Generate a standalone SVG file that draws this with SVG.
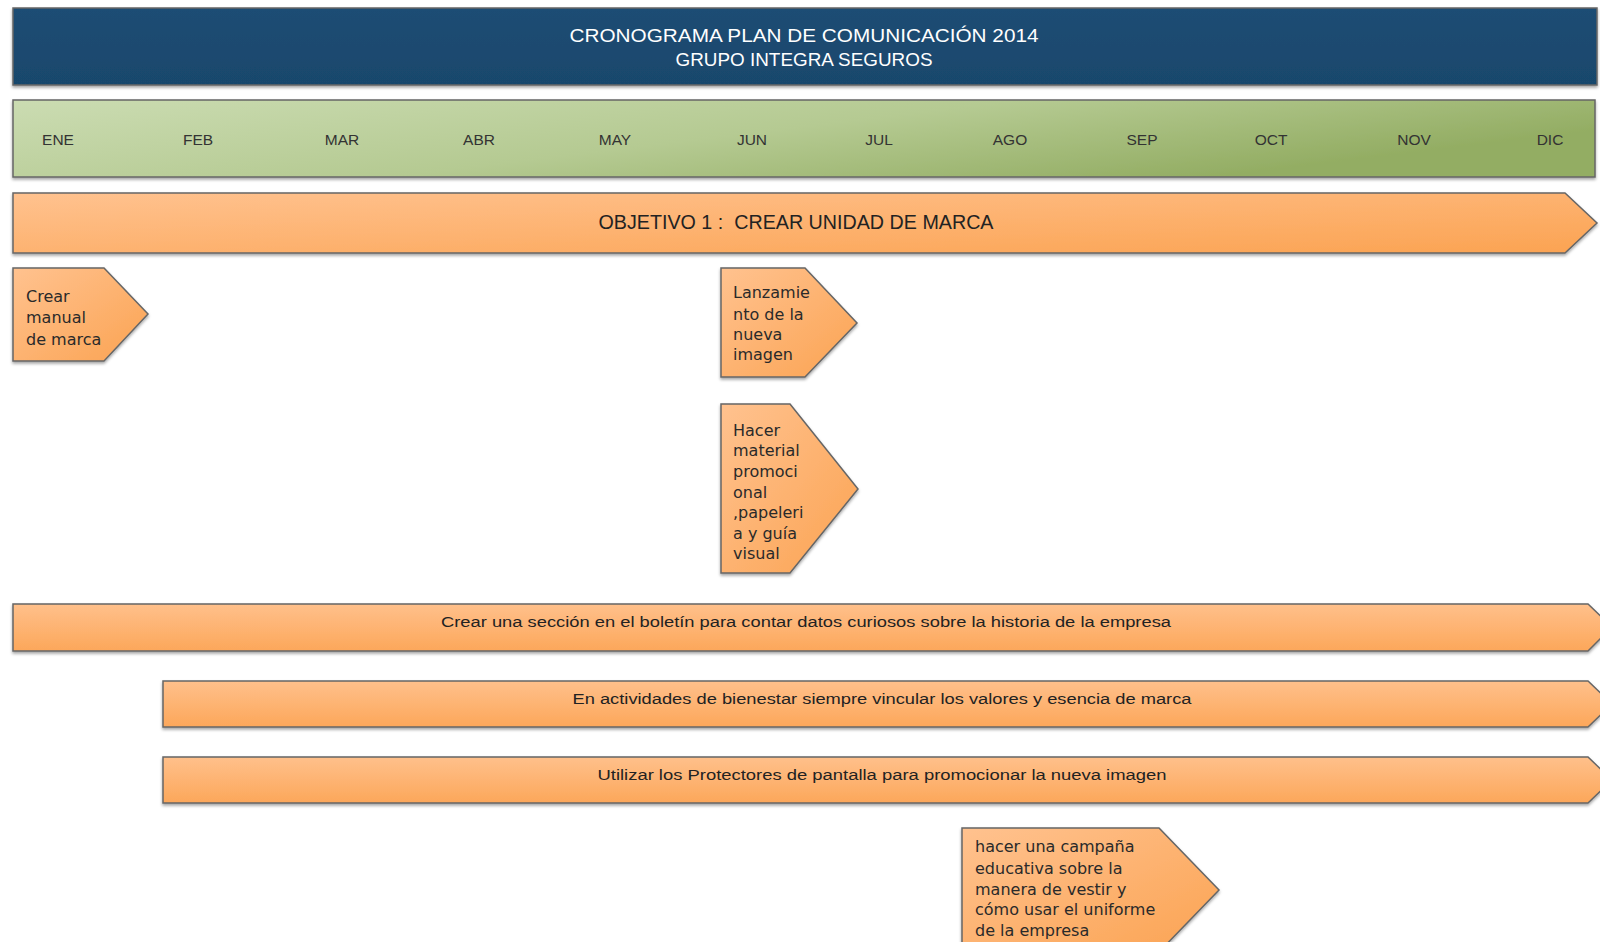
<svg xmlns="http://www.w3.org/2000/svg" width="1600" height="942" viewBox="0 0 1600 942">
<defs>
<linearGradient id="gOrange" x1="0" y1="0" x2="1" y2="1">
<stop offset="0" stop-color="#ffc28f"/>
<stop offset="1" stop-color="#fba352"/>
</linearGradient>
<linearGradient id="gBar" x1="0" y1="0" x2="0" y2="1">
<stop offset="0" stop-color="#ffc08b"/>
<stop offset="1" stop-color="#fca75a"/>
</linearGradient>
<linearGradient id="gGreen" x1="0" y1="0" x2="1" y2="0.4">
<stop offset="0" stop-color="#cbdcb2"/>
<stop offset="0.55" stop-color="#b5ca92"/>
<stop offset="1" stop-color="#93ad63"/>
</linearGradient>
<linearGradient id="gBlue" x1="0" y1="0" x2="0" y2="1">
<stop offset="0" stop-color="#1d4d74"/>
<stop offset="1" stop-color="#19476c"/>
</linearGradient>
<filter id="sh" x="-5%" y="-20%" width="110%" height="150%">
<feDropShadow dx="0" dy="2" stdDeviation="1.5" flood-color="#000" flood-opacity="0.35"/>
</filter>
</defs>
<style>
.box{stroke:#666;stroke-width:1.5;filter:url(#sh)}
.or{fill:url(#gOrange)}
.orb{fill:url(#gBar)}
.hd{font-family:"Liberation Sans",Arial,sans-serif;font-size:19px;fill:#fff;text-anchor:middle}
.mo{font-family:"Liberation Sans",Arial,sans-serif;font-size:15.5px;fill:#333;text-anchor:middle}
.ob{font-family:"Liberation Sans",Arial,sans-serif;font-size:20px;fill:#222;text-anchor:middle}
.bt{font-family:"Liberation Sans",Arial,sans-serif;font-size:15.5px;fill:#222;text-anchor:middle}
.pt{font-family:"DejaVu Sans",sans-serif;font-size:16px;fill:#2a2a2a}
</style>
<rect width="1600" height="942" fill="#fff"/>

<g id="header">
<rect class="box" x="13" y="8" width="1584" height="77" fill="url(#gBlue)"/>
<text class="hd" x="804" y="42" textLength="469" lengthAdjust="spacingAndGlyphs">CRONOGRAMA PLAN DE COMUNICACIÓN 2014</text>
<text class="hd" x="804" y="66" textLength="257" lengthAdjust="spacingAndGlyphs">GRUPO INTEGRA SEGUROS</text>
</g>

<g id="months">
<rect class="box" x="13" y="100" width="1582" height="77" fill="url(#gGreen)"/>
<text class="mo" x="58" y="145">ENE</text>
<text class="mo" x="198" y="145">FEB</text>
<text class="mo" x="342" y="145">MAR</text>
<text class="mo" x="479" y="145">ABR</text>
<text class="mo" x="615" y="145">MAY</text>
<text class="mo" x="752" y="145">JUN</text>
<text class="mo" x="879" y="145">JUL</text>
<text class="mo" x="1010" y="145">AGO</text>
<text class="mo" x="1142" y="145">SEP</text>
<text class="mo" x="1271" y="145">OCT</text>
<text class="mo" x="1414" y="145">NOV</text>
<text class="mo" x="1550" y="145">DIC</text>
</g>

<g id="objetivo1">
<polygon class="box or" points="13,193 1565,193 1597,223 1565,253 13,253"/>
<text class="ob" x="796" y="229" xml:space="preserve" textLength="395" lengthAdjust="spacingAndGlyphs">OBJETIVO 1 :  CREAR UNIDAD DE MARCA</text>
</g>

<g id="crear-manual">
<polygon class="box or" points="13,268 104,268 148,314 104,361 13,361"/>
<text class="pt" x="26"><tspan x="26" y="302">Crear</tspan><tspan x="26" y="323">manual</tspan><tspan x="26" y="345">de marca</tspan></text>
</g>

<g id="lanzamiento">
<polygon class="box or" points="721,268 805,268 857,323 805,377 721,377"/>
<text class="pt"><tspan x="733" y="298">Lanzamie</tspan><tspan x="733" y="320">nto de la</tspan><tspan x="733" y="340">nueva</tspan><tspan x="733" y="360">imagen</tspan></text>
</g>

<g id="material">
<polygon class="box or" points="721,404 790,404 858,489 790,573 721,573"/>
<text class="pt"><tspan x="733" y="436">Hacer</tspan><tspan x="733" y="456">material</tspan><tspan x="733" y="477">promoci</tspan><tspan x="733" y="498">onal</tspan><tspan x="733" y="518">,papeleri</tspan><tspan x="733" y="539">a y guía</tspan><tspan x="733" y="559">visual</tspan></text>
</g>

<g id="boletin">
<polygon class="box orb" points="13,604 1588,604 1612,627 1588,651 13,651"/>
<text class="bt" x="806" y="627" textLength="730" lengthAdjust="spacingAndGlyphs">Crear una sección en el boletín para contar datos curiosos sobre la historia de la empresa</text>
</g>

<g id="bienestar">
<polygon class="box orb" points="163,681 1588,681 1612,704 1588,727 163,727"/>
<text class="bt" x="882" y="704" textLength="619" lengthAdjust="spacingAndGlyphs">En actividades de bienestar siempre vincular los valores y esencia de marca</text>
</g>

<g id="protectores">
<polygon class="box orb" points="163,757 1588,757 1612,780 1588,803 163,803"/>
<text class="bt" x="882" y="780" textLength="569" lengthAdjust="spacingAndGlyphs">Utilizar los Protectores de pantalla para promocionar la nueva imagen</text>
</g>

<g id="campana">
<polygon class="box or" points="962,828 1159,828 1219,890 1159,952 962,952"/>
<text class="pt"><tspan x="975" y="852">hacer una campaña</tspan><tspan x="975" y="874">educativa sobre la</tspan><tspan x="975" y="895">manera de vestir y</tspan><tspan x="975" y="915">cómo usar el uniforme</tspan><tspan x="975" y="936">de la empresa</tspan></text>
</g>

<g id="connectors"></g>
</svg>
